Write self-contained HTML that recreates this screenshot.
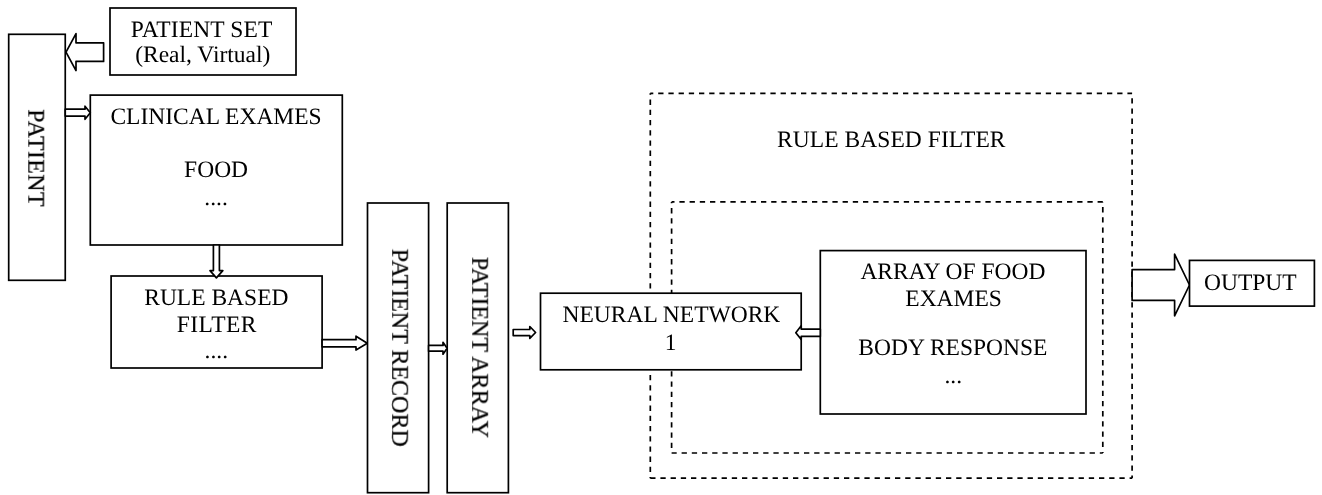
<!DOCTYPE html>
<html><head><meta charset="utf-8"><title>Diagram</title>
<style>
html,body{margin:0;padding:0;background:#fff;width:1322px;height:495px;overflow:hidden}
svg{display:block;-webkit-font-smoothing:antialiased}
text{text-rendering:geometricPrecision;font-family:"Liberation Serif",serif;fill:#000;text-anchor:middle;stroke:#000;stroke-width:0px}
</style></head><body>
<svg width="1322" height="495" viewBox="0 0 1322 495">
<rect x="0" y="0" width="1322" height="495" fill="#fff"/>
<g fill="none" stroke="#000" stroke-width="1.7" stroke-linejoin="miter">
<rect x="8.7" y="34.3" width="56.55" height="246.00" fill="#fff"/>
<rect x="110" y="8" width="186.00" height="67.00" fill="#fff"/>
<polygon points="103.6,42.8 76,42.8 76,33.6 66,52.1 76,70.6 76,61.4 103.6,61.4" fill="#fff" stroke-linejoin="round"/>
<rect x="90.3" y="95.1" width="252.00" height="149.90" fill="#fff"/>
<polygon points="65.25,109.2 85,109.2 85,106.2 90.3,112.8 85,119.3 85,116.1 65.25,116.1" fill="#fff" stroke-linejoin="round"/>
<rect x="111.1" y="276" width="211.00" height="92.00" fill="#fff"/>
<polygon points="213.4,245 213.4,270.6 210,270.6 216.4,277.9 222.8,270.6 219.4,270.6 219.4,245" fill="#fff" stroke-linejoin="round"/>
<polygon points="322.1,339.7 356,339.7 356,336.2 367.3,343.3 356,350 356,346.8 322.1,346.8" fill="#fff" stroke-linejoin="round"/>
<rect x="367.5" y="203" width="61.10" height="289.70" fill="#fff"/>
<rect x="447.2" y="203" width="61.20" height="289.70" fill="#fff"/>
<polygon points="428.6,345.4 443,345.4 443,342.3 447.1,348.3 443,354.2 443,351.2 428.6,351.2" fill="#fff" stroke-linejoin="round"/>
<polygon points="513.2,329.5 529.8,329.5 529.8,326.5 535.6,332.5 529.8,338.3 529.8,335.6 513.2,335.6" fill="#fff" stroke-linejoin="round"/>
<line x1="650.3" y1="93.3" x2="1132.1" y2="93.3" stroke-dasharray="5.3 4.9" stroke-dashoffset="2.3"/><line x1="1132.1" y1="93.3" x2="1132.1" y2="478.2" stroke-dasharray="5.3 4.9" stroke-dashoffset="5.3"/><line x1="650.3" y1="478.2" x2="1132.1" y2="478.2" stroke-dasharray="5.3 4.9" stroke-dashoffset="0.1"/><line x1="650.3" y1="93.3" x2="650.3" y2="478.2" stroke-dasharray="5.3 4.9" stroke-dashoffset="3.9"/><line x1="671.6" y1="201.9" x2="1102.8" y2="201.9" stroke-dasharray="5.3 4.9" stroke-dashoffset="2.4"/><line x1="1102.8" y1="201.9" x2="1102.8" y2="453" stroke-dasharray="5.3 4.9" stroke-dashoffset="5.0"/><line x1="671.6" y1="453" x2="1102.8" y2="453" stroke-dasharray="5.3 4.9" stroke-dashoffset="0.2"/><line x1="671.6" y1="201.9" x2="671.6" y2="453" stroke-dasharray="5.3 4.9" stroke-dashoffset="4.0"/>
<rect x="540.5" y="293.2" width="260.70" height="76.60" fill="#fff"/>
<rect x="820.3" y="250.6" width="265.70" height="163.40" fill="#fff"/>
<polygon points="820.3,329.1 801.2,329.1 801.2,325.8 795.8,332.7 801.2,339.4 801.2,336.4 820.3,336.4" fill="#fff" stroke-linejoin="round"/>
<polygon points="1132.1,269.6 1174.6,269.6 1174.6,254.2 1189.5,285 1174.6,315.8 1174.6,300.4 1132.1,300.4" fill="#fff" stroke-linejoin="round"/>
<rect x="1189.5" y="260.4" width="124.90" height="45.70" fill="#fff"/>
</g>
<g style="will-change:transform">
<text x="201.55" y="36.7" font-size="23.5" textLength="141.7">PATIENT SET</text>
<text x="202.75" y="62.2" font-size="23.5">(Real, Virtual)</text>
<text x="216.05" y="123.8" font-size="23.5">CLINICAL EXAMES</text>
<text x="216.1" y="176.7" font-size="23.5">FOOD</text>
<text x="216" y="204.9" font-size="23.5">....</text>
<text x="216.35" y="304.9" font-size="23.5">RULE BASED</text>
<text x="216.55" y="332" font-size="23.5" textLength="79.8">FILTER</text>
<text x="216.3" y="358.1" font-size="23.5">....</text>
<text transform="translate(28.3 157.9) rotate(90)" x="0" y="0" font-size="24" style="stroke-width:0.2px" textLength="97.3">PATIENT</text>
<text transform="translate(392.2 347.75) rotate(90)" x="0" y="0" font-size="24" style="stroke-width:0.2px">PATIENT RECORD</text>
<text transform="translate(472.2 347.45) rotate(90)" x="0" y="0" font-size="24" style="stroke-width:0.2px">PATIENT ARRAY</text>
<text x="671.45" y="321.8" font-size="23.5">NEURAL NETWORK</text>
<text x="670.65" y="349.7" font-size="23.5">1</text>
<text x="891.25" y="146.8" font-size="23.5" textLength="228.6">RULE BASED FILTER</text>
<text x="952.9" y="278.6" font-size="23.5">ARRAY OF FOOD</text>
<text x="953.6" y="305.9" font-size="23.5">EXAMES</text>
<text x="952.9" y="354.6" font-size="23.5">BODY RESPONSE</text>
<text x="953.25" y="382.5" font-size="23.5">...</text>
<text x="1250.3" y="289.8" font-size="23.5">OUTPUT</text>
</g>
</svg>
</body></html>
